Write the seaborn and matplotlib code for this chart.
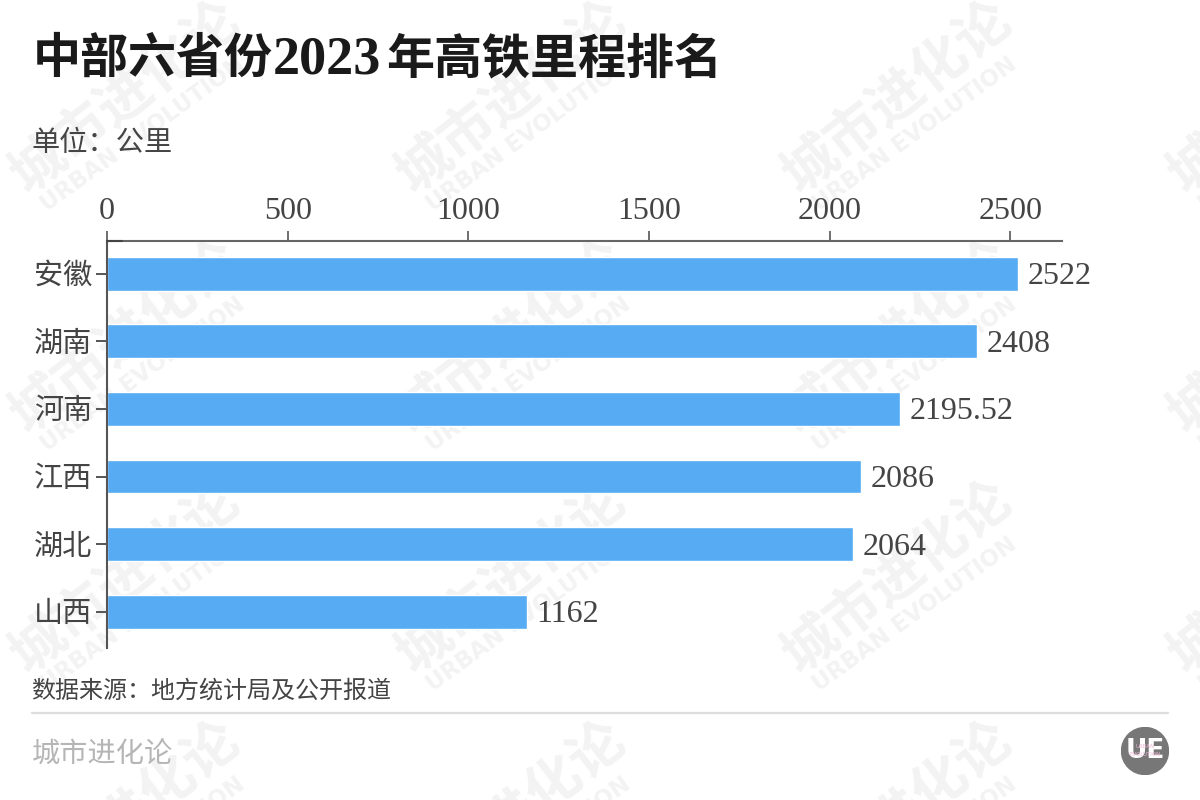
import matplotlib
matplotlib.use("Agg")
import matplotlib.pyplot as plt
from matplotlib.patches import Circle
from matplotlib.lines import Line2D
from matplotlib.transforms import ScaledTranslation
import pandas as pd
import seaborn as sns

provinces = ["安徽", "湖南", "河南", "江西", "湖北", "山西"]
mileage = [2522, 2408, 2195.52, 2086, 2064, 1162]
value_labels = ["2522", "2408", "2195.52", "2086", "2064", "1162"]
x_ticks = [0, 500, 1000, 1500, 2000, 2500]

W, H = 1200, 800
CJK = ["Noto Sans CJK SC", "DejaVu Sans"]
LATIN = ["Liberation Serif", "DejaVu Serif"]
DARK = "#444444"

sns.set_theme(style="white")
plt.rcParams["font.family"] = CJK

fig = plt.figure(figsize=(12, 8), dpi=100, facecolor="white")
ax = fig.add_axes([107 / W, 1 - 648 / H, (1062 - 107) / W, (648 - 241) / H])
ax.patch.set_visible(False)


def px(x, y):
    return x / W, 1 - y / H


df = pd.DataFrame({"province": provinces, "mileage": mileage})
sns.barplot(data=df, x="mileage", y="province", color="#57ABF3", width=0.5,
            saturation=1, ax=ax)

ax.set_xlim(0, 2643)
ax.set_ylim(5.535, -0.482)
ax.set_xlabel("")
ax.set_ylabel("")
ax.xaxis.tick_top()
ax.set_xticks(x_ticks)
ax.set_xticklabels([str(t) for t in x_ticks], fontfamily=LATIN, fontsize=23, color=DARK)
ax.tick_params(axis="x", length=7.2, width=1.2, color="#555555", pad=3.5, top=True, bottom=False)
ax.tick_params(axis="y", length=7.9, width=1.4, color="#555555", pad=3, left=True)
shift = ScaledTranslation(0, 1.0 / 72, fig.dpi_scale_trans)
for lab in ax.get_yticklabels():
    lab.set_fontfamily(CJK)
    lab.set_fontsize(21)
    lab.set_color(DARK)
    lab.set_transform(lab.get_transform() + shift)

for side in ["right", "bottom"]:
    ax.spines[side].set_visible(False)
ax.spines["top"].set_color("#666666")
ax.spines["top"].set_linewidth(1.5)
ax.spines["left"].set_color("#555555")
ax.spines["left"].set_linewidth(1.5)

anns = ax.bar_label(ax.containers[0], labels=value_labels, padding=7, fontfamily=LATIN,
                    fontsize=23, color=DARK)
for ann in anns:
    ann.xyann = (7, -2.2)

fig.add_artist(Line2D([107 / W, 122 / W], [1 - 241 / H] * 2, color="#444444", lw=1.5))

# watermark tiles, behind the axes
for col in range(4):
    for row in range(4):
        ox = 27 + 386 * col
        oy = 195 + 240 * row
        x0, y0 = px(ox, oy)
        fig.text(x0, y0, "城市进化论", fontsize=39.5, fontweight="bold", color="#f3f3f3",
                 rotation=38, rotation_mode="anchor", ha="left", va="baseline", zorder=-5)
        x1, y1 = px(ox + 20, oy + 17)
        fig.text(x1, y1, "URBAN EVOLUTION", fontsize=16.5, fontweight="bold",
                 fontfamily="DejaVu Sans", color="#f3f3f3", rotation=36,
                 rotation_mode="anchor", ha="left", va="baseline", zorder=-5)

# title, mixed faces
TITLE_Y = 73
tx, ty = px(33, TITLE_Y)
fig.text(tx, ty, "中部六省份", fontsize=34.6, fontweight="bold", color="#1a1a1a", va="baseline")
tx, ty = px(273, TITLE_Y)
fig.text(tx, ty, "2023", fontsize=39, fontweight="bold", fontfamily=LATIN, color="#1a1a1a", va="baseline")
tx, ty = px(386, TITLE_Y)
fig.text(tx, ty, "年高铁里程排名", fontsize=34.6, fontweight="bold", color="#1a1a1a", va="baseline")

tx, ty = px(31.5, 151)
fig.text(tx, ty, "单位：公里", fontsize=20.3, color=DARK, va="baseline")
tx, ty = px(31.5, 698)
fig.text(tx, ty, "数据来源：地方统计局及公开报道", fontsize=17.3, color=DARK, va="baseline")
tx, ty = px(31.5, 763)
fig.text(tx, ty, "城市进化论", fontsize=20.3, color="#b5b5b5", va="baseline")

fig.add_artist(Line2D([32 / W, 1168 / W], [1 - 713 / H] * 2, color="#dddddd", lw=1.6))

# logo badge
logo_ax = fig.add_axes([1121 / W, 1 - 775 / H, 48 / W, 48 / H])
logo_ax.set_xlim(-24, 24)
logo_ax.set_ylim(-24, 24)
logo_ax.axis("off")
logo_ax.add_patch(Circle((0, 0), 23.5, color="#777777"))
logo_ax.text(0, 0, "UE", color="white", fontsize=19, fontweight="bold", ha="center",
             va="center", fontfamily="DejaVu Sans")
logo_ax.text(0, 4, "URBAN", color="#eeb6d0", fontsize=4, ha="center", va="center",
             fontfamily="DejaVu Sans")
logo_ax.text(0, -4, "EVOLUTION", color="#eeb6d0", fontsize=4, ha="center", va="center",
             fontfamily="DejaVu Sans")

fig.savefig("out.png", dpi=100, facecolor="white")
